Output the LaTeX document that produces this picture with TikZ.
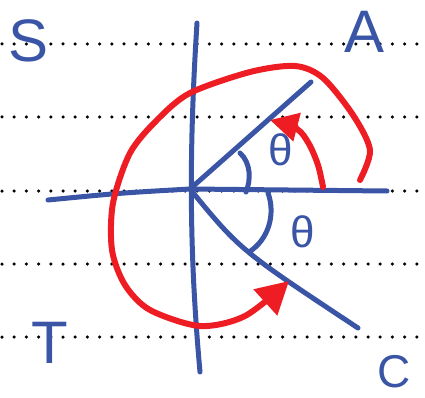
\documentclass[tikz,border=0pt]{standalone}
\usepackage{fontspec}
\setmainfont{Liberation Sans}
\usetikzlibrary{arrows.meta}
\definecolor{inkblue}{HTML}{3A55A6}
\definecolor{inkred}{HTML}{EE1D24}
\begin{document}
\begin{tikzpicture}[x=1pt,y=-1pt,
    rule/.style={line width=3.5pt, line cap=round, dash pattern=on 0pt off 12.2pt},
    ink/.style={inkblue, line width=5pt, line cap=round},
    turn/.style={inkred, line width=6pt, line cap=round},
    letter/.style={inkblue, inner sep=0pt, font=\fontsize{60}{60}\selectfont},
    angle/.style={inkblue, inner sep=0pt, font=\fontsize{44}{44}\selectfont}]
    \useasboundingbox (0,0) rectangle (425,398);
    % ruled paper
    \foreach \y in {44,117,191,264,337}
        \draw[rule] (2,\y) -- (425,\y);
    % axes and the two rays
    \coordinate (O) at (190,189);
    \coordinate (top) at (197,23);
    \coordinate (bottom) at (200,372);
    \coordinate (left) at (48,200);
    \coordinate (right) at (387,191);
    \coordinate (rayA) at (311,82);
    \coordinate (rayC) at (358,328);
    \draw[ink] (top) .. controls (189,150) and (189,250) .. (bottom);
    \draw[ink] (left) .. controls (120,193) .. (O) -- (right);
    \draw[ink] (O) -- (rayA);
    \draw[ink] (O) .. controls (240,250) .. (rayC);
    % angle marks
    \draw[ink] (240,153) .. controls (251,163) and (251,180) .. (246,192);
    \draw[ink] (268,193) .. controls (276,215) and (268,240) .. (249,252);
    \node[angle] (thetaA) at (281,150) {θ};
    \node[angle] (thetaC) at (303,232) {θ};
    % quadrant letters
    \node[letter] (S) at (29,41) {S};
    \node[letter] (A) at (365,32) {A};
    \node[letter] (T) at (50,343) {T};
    \node[letter, font=\fontsize{46}{46}\selectfont] (C) at (394,372) {C};
    % red turning arrows
    \draw[turn, -{Triangle[length=28pt,width=28pt]}] plot[smooth] coordinates
        {(323,187) (318,165) (309,144) (297,129) (270,120)};
    \draw[turn, -{Triangle[length=32pt,width=34pt]}] plot[smooth] coordinates
        {(360,180) (370,150) (353,115) (323,78) (295,66) (250,72) (190,93)
         (157,120) (130,153) (113,203) (112,250) (125,285) (150,310)
         (200,326) (245,316) (289,281)};
\end{tikzpicture}
\end{document}
